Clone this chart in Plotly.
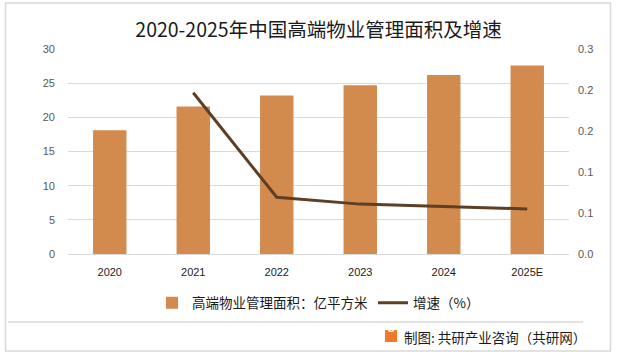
import plotly.graph_objects as go

years = ["2020", "2021", "2022", "2023", "2024", "2025E"]
area = [18.1, 21.6, 23.2, 24.7, 26.2, 27.6]
growth_years = ["2021", "2022", "2023", "2024", "2025E"]
growth = [0.236, 0.083, 0.073, 0.069, 0.066]
right_ticks = [0, 0.06, 0.12, 0.18, 0.24, 0.3]
right_labels = ["0.0", "0.1", "0.1", "0.2", "0.2", "0.3"]

CJK = "Noto Sans CJK SC"
W, H = 617, 357
L, R, T, B = 68, 48, 49, 103
ph = H - T - B


def px_x(x):
    return (x - L) / (W - L - R)


def px_y(y):
    return (H - B - y) / ph


fig = go.Figure()
fig.add_trace(go.Bar(
    x=years, y=area, name="高端物业管理面积：亿平方米",
    marker=dict(color="#D38A4D", line=dict(width=0)),
    yaxis="y",
))
fig.add_trace(go.Scatter(
    x=growth_years, y=growth, name="增速（%）", mode="lines",
    line=dict(color="#5E3F25", width=3),
    yaxis="y2",
))

fig.update_layout(
    width=W, height=H,
    margin=dict(l=L, r=R, t=T, b=B),
    paper_bgcolor="white", plot_bgcolor="white",
    bargap=0.6,
    showlegend=True,
    title=dict(text="2020-2025年中国高端物业管理面积及增速",
               font=dict(family=CJK, size=19.5, color="#1a1a1a"),
               xref="paper", x=0.5, xanchor="center", y=1 - 30 / H, yanchor="middle"),
    xaxis=dict(type="category", showgrid=False, showline=True,
               linecolor="#d9d9d9", linewidth=1, ticks="",
               tickfont=dict(family="Liberation Sans, Arial", size=11, color="#222"),
               ticklabelstandoff=8),
    yaxis=dict(range=[0, 30], tickvals=[0, 5, 10, 15, 20, 25, 30],
               showgrid=True, gridcolor="#d9d9d9", gridwidth=1,
               zeroline=False, showline=False, ticks="",
               tickfont=dict(family="Liberation Sans, Arial", size=11, color="#595959"),
               ticklabelstandoff=12),
    yaxis2=dict(range=[0, 0.3], overlaying="y", side="right",
                tickvals=right_ticks, ticktext=right_labels,
                showgrid=False, zeroline=False, showline=False, ticks="",
                tickfont=dict(family="Liberation Sans, Arial", size=11, color="#595959"),
                ticklabelstandoff=8),
    legend=dict(orientation="h", x=0.5, xanchor="center",
                y=px_y(303), yanchor="middle",
                font=dict(family=CJK, size=13.5, color="#1a1a1a"),
                traceorder="normal", bgcolor="rgba(0,0,0,0)"),
)

# outer border
fig.add_shape(type="rect", xref="paper", yref="paper",
              x0=px_x(5.5), x1=px_x(610.5), y0=px_y(351), y1=px_y(3),
              line=dict(color="#d9d9d9", width=1.5), layer="below")
# separator line
fig.add_shape(type="line", xref="paper", yref="paper",
              x0=px_x(8), x1=px_x(583), y0=px_y(322), y1=px_y(322),
              line=dict(color="#d9d9d9", width=1.5))
# logo
fig.add_shape(type="rect", xref="paper", yref="paper",
              x0=px_x(385), x1=px_x(397), y0=px_y(342), y1=px_y(330),
              fillcolor="#F07A2A", line=dict(width=0))
fig.add_annotation(xref="paper", yref="paper", x=px_x(391), y=px_y(336),
                   text="<b>G</b>", showarrow=False,
                   font=dict(family="Liberation Sans", size=10, color="white"))
fig.add_annotation(xref="paper", yref="paper", x=px_x(402), y=px_y(337),
                   xanchor="left", yanchor="middle",
                   text="制图: 共研产业咨询（共研网）", showarrow=False,
                   font=dict(family=CJK, size=13.5, color="#1a1a1a"))

fig.write_html("out.html", config={"displayModeBar": False},
               post_script="document.body.style.margin='0';document.body.style.overflow='hidden';")
